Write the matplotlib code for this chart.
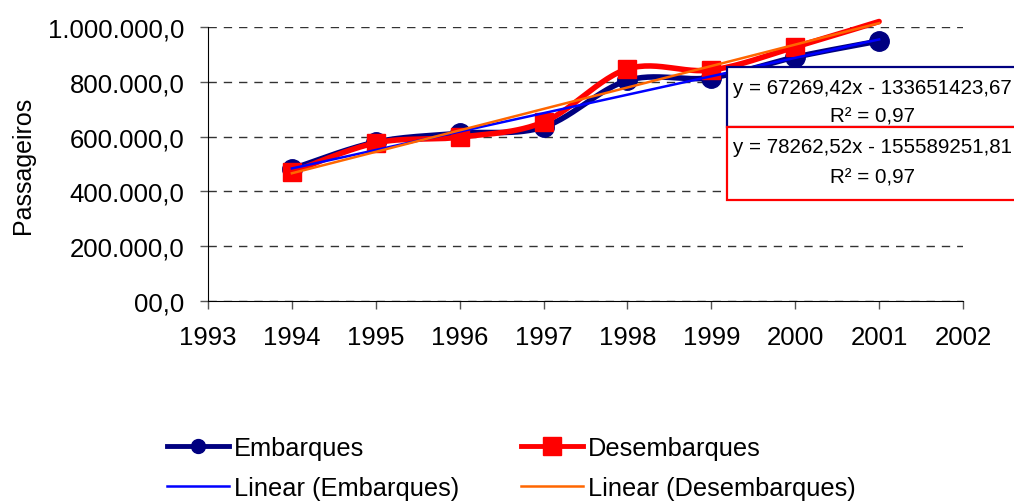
import numpy as np
import matplotlib
matplotlib.use("Agg")
import matplotlib.pyplot as plt
from matplotlib.patches import Rectangle

plt.rcParams['font.family'] = ['Liberation Sans', 'DejaVu Sans']

years = [1994, 1995, 1996, 1997, 1998, 1999, 2000, 2001]
embarques = [482000, 580000, 612000, 635000, 805000, 815000, 890000, 949000]
desembarques = [470000, 577000, 598000, 653000, 847000, 843000, 927000, 1020000]

# trend line coefficients as printed on the chart
emb_slope, emb_icpt = 67269.42, -133651423.67
des_slope, des_icpt = 78262.52, -155589251.81
emb_eq = ["y = 67269,42x - 133651423,67", "R² = 0,97"]
des_eq = ["y = 78262,52x - 155589251,81", "R² = 0,97"]

y_ticks = [0, 200000, 400000, 600000, 800000, 1000000]
y_labels = ["00,0", "200.000,0", "400.000,0", "600.000,0", "800.000,0", "1.000.000,0"]
x_ticks = list(range(1993, 2003))


def smooth(xs, ys, n=30):
    # Excel-like smoothed line (Bezier through points)
    xs = np.asarray(xs, float)
    ys = np.asarray(ys, float)
    px, py = [], []
    for i in range(len(xs) - 1):
        i0 = max(i - 1, 0)
        i3 = min(i + 2, len(xs) - 1)
        p0 = np.array([xs[i], ys[i]])
        p3 = np.array([xs[i + 1], ys[i + 1]])
        c1 = p0 + (p3 - np.array([xs[i0], ys[i0]])) / 6
        c2 = p3 - (np.array([xs[i3], ys[i3]]) - p0) / 6
        t = np.linspace(0, 1, n)[:, None]
        pts = (1 - t) ** 3 * p0 + 3 * (1 - t) ** 2 * t * c1 + 3 * (1 - t) * t ** 2 * c2 + t ** 3 * p3
        px.extend(pts[:, 0])
        py.extend(pts[:, 1])
    return px, py


W, H = 1014, 502
fig = plt.figure(figsize=(10.14, 5.02), dpi=100)
ax = fig.add_axes([208 / W, 1 - 302 / H, (963 - 208) / W, 274 / H])

ax.set_xlim(1993, 2002)
ax.set_ylim(0, 1000000)
ax.set_yticks(y_ticks)
ax.set_yticklabels(y_labels)
ax.set_xticks(x_ticks)
ax.tick_params(labelsize=18.5, length=6, width=1, color='#555555')
ax.tick_params(axis='y', pad=11)
ax.tick_params(axis='x', pad=11)
ax.grid(axis='y', linestyle=(0, (6, 5)), color='#333333', linewidth=1)
for s in ['top', 'right']:
    ax.spines[s].set_visible(False)
ax.set_ylabel("Passageiros", fontsize=18)
ax.yaxis.set_label_coords(23 / W, 1 - 165 / H, transform=fig.transFigure)
ax.yaxis.label.set_va('center')

sx, sy = smooth(years, embarques)
ax.plot(sx, sy, color='#000080', lw=4, clip_on=False, solid_capstyle='round', zorder=3)
ax.plot(years, embarques, 'o', color='#000080', ms=14, clip_on=False, zorder=3)

sx, sy = smooth(years, desembarques)
ax.plot(sx, sy, color='#FF0000', lw=4, clip_on=False, solid_capstyle='round', zorder=4)
vis = [i for i, v in enumerate(desembarques) if v <= 1000000]
ax.plot([years[i] for i in vis], [desembarques[i] for i in vis], 's', color='#FF0000',
        ms=13, clip_on=False, zorder=4)

tx = np.array([years[0], years[-1]])
ax.plot(tx, emb_slope * tx + emb_icpt, color='#0000FF', lw=1.8, clip_on=False, zorder=5)
ax.plot(tx, des_slope * tx + des_icpt, color='#FF6600', lw=1.8, clip_on=False, zorder=5)

# legend handles
h1, = ax.plot([], [], color='#000080', lw=3.5, marker='o', ms=10)
h2, = ax.plot([], [], color='#0000FF', lw=1.8)
h3, = ax.plot([], [], color='#FF0000', lw=3.5, marker='s', ms=13)
h4, = ax.plot([], [], color='#FF6600', lw=1.8)
fig.legend([h1, h2, h3, h4],
           ["Embarques", "Linear (Embarques)", "Desembarques", "Linear (Desembarques)"],
           ncol=2, frameon=False, fontsize=18.3, loc='upper left',
           bbox_to_anchor=(167 / W, 1 - 437 / H), borderpad=0, borderaxespad=0,
           handlelength=2.45, handletextpad=0.2, columnspacing=2.4, labelspacing=0.62)

# equation boxes
for (top, bot, col, lines, ly) in [(68, 128, '#000080', emb_eq, (88, 117)),
                                    (128, 201, '#FF0000', des_eq, (148, 178))]:
    fig.patches.append(Rectangle((727 / W, 1 - bot / H), 300 / W, (bot - top) / H,
                                 transform=fig.transFigure, facecolor='white',
                                 edgecolor=col, lw=1.6, zorder=10))
    fig.text(733 / W, 1 - ly[0] / H, lines[0], fontsize=14.8, va='center', ha='left', zorder=11)
    fig.text(872 / W, 1 - ly[1] / H, lines[1], fontsize=14.8, va='center', ha='center', zorder=11)

fig.savefig("out.png", dpi=100)
